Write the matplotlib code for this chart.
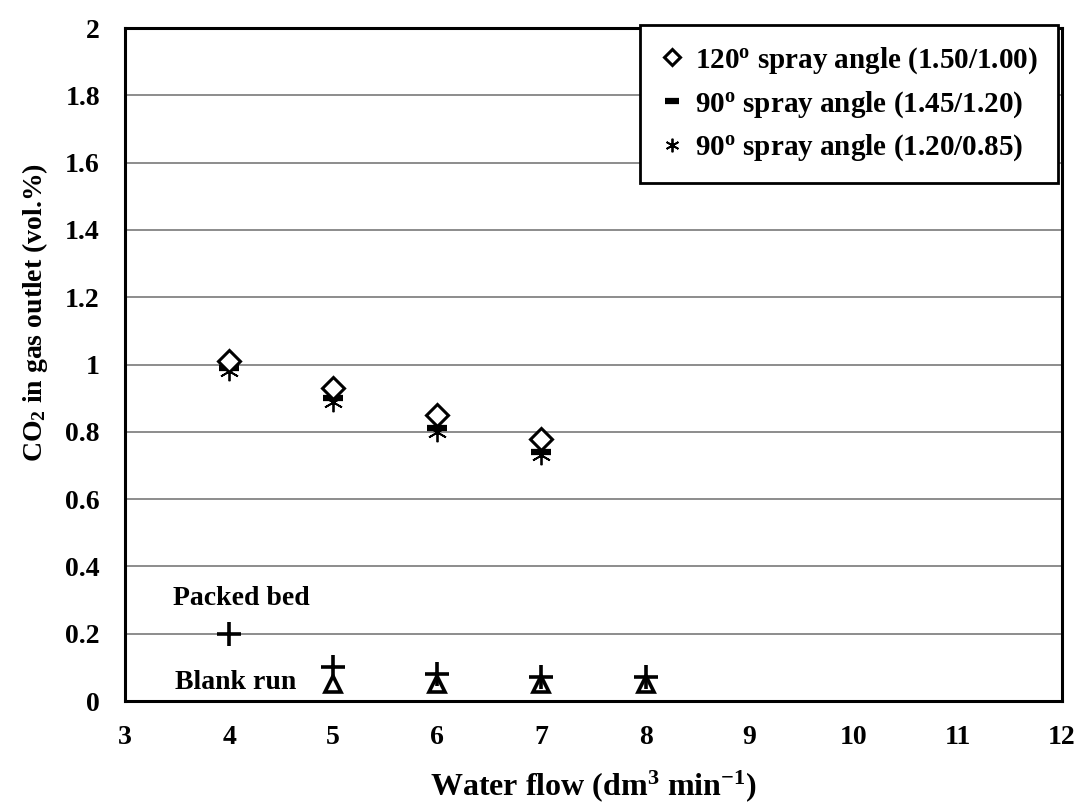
import matplotlib
matplotlib.use("Agg")
import matplotlib.pyplot as plt

plt.rcParams['font.family'] = 'Liberation Serif'
plt.rcParams['font.weight'] = 'bold'
plt.rcParams['mathtext.fontset'] = 'custom'
plt.rcParams['mathtext.rm'] = 'Liberation Serif:bold'
plt.rcParams['mathtext.it'] = 'Liberation Serif:bold'
plt.rcParams['mathtext.bf'] = 'Liberation Serif:bold'

flow = [4, 5, 6, 7]
angle120 = [1.01, 0.93, 0.85, 0.78]
angle90_a = [0.99, 0.90, 0.81, 0.74]
angle90_b = [0.98, 0.89, 0.80, 0.73]

packed_x = [4]
packed_y = [0.20]

blank_x = [5, 6, 7, 8]
blank_plus = [0.10, 0.08, 0.07, 0.07]
blank_tri = [0.05, 0.05, 0.05, 0.05]

labels = ['120$^{\\mathrm{o}}$ spray angle (1.50/1.00)',
          '90$^{\\mathrm{o}}$ spray angle (1.45/1.20)',
          '90$^{\\mathrm{o}}$ spray angle (1.20/0.85)']

fig = plt.figure(figsize=(10.83, 8.08), dpi=100)
ax = fig.add_axes([0.1154, 0.1324, 0.8652, 0.8329])

ax.plot(flow, angle120, 'D', ms=11, mfc='white', mec='black', mew=2.2, ls='none', label=labels[0], zorder=4)
ax.plot(flow, angle90_a, '_', ms=14, mec='black', mew=4.5, ls='none', label=labels[1], zorder=3)
ax.plot(flow, angle90_b, marker=(6, 2, 0), ms=14, mec='black', mew=1.3, ls='none', label=labels[2], zorder=3)

ax.plot(packed_x, packed_y, '+', ms=17, mec='black', mew=2.6, ls='none')
ax.plot(blank_x, blank_plus, '+', ms=17, mec='black', mew=2.6, ls='none')
ax.plot(blank_x, blank_tri, '^', ms=12, mfc='none', mec='black', mew=2.6, ls='none')

ax.text(3.46, 0.305, 'Packed bed', fontsize=20, fontweight='bold', va='center', ha='left')
ax.text(3.48, 0.055, 'Blank run', fontsize=20, fontweight='bold', va='center', ha='left')

ax.set_xlim(3, 12)
ax.set_ylim(0, 2)
ax.set_xticks(range(3, 13))
ax.set_yticks([0, 0.2, 0.4, 0.6, 0.8, 1, 1.2, 1.4, 1.6, 1.8, 2])
ax.set_yticklabels(['0', '0.2', '0.4', '0.6', '0.8', '1', '1.2', '1.4', '1.6', '1.8', '2'])
ax.tick_params(axis='x', length=0, labelsize=20, pad=17)
ax.tick_params(axis='y', length=0, labelsize=20, pad=18)
for lab in ax.get_xticklabels() + ax.get_yticklabels():
    lab.set_fontweight('bold')
ax.yaxis.grid(True, color='#8c8c8c', lw=1.4)
ax.set_axisbelow(True)
for s in ax.spines.values():
    s.set_linewidth(2.2)

ax.set_xlabel('Water flow (dm$^{3}$ min$^{-1}$)', fontsize=23, fontweight='bold')
ax.set_ylabel('CO$_{2}$ in gas outlet (vol.%)', fontsize=20, fontweight='bold')
ax.xaxis.set_label_coords(0.5, -0.10)
ax.yaxis.set_label_coords(-0.080, 0.577)

leg = ax.legend(loc='upper right', bbox_to_anchor=(0.9957, 1.004), fontsize=21, frameon=True,
                fancybox=False, edgecolor='black', borderpad=0.68, labelspacing=0.45,
                handletextpad=0.4, borderaxespad=0, handlelength=0.8, markerscale=0.7)
leg.get_frame().set_linewidth(2)
leg.get_frame().set_alpha(1)

fig.savefig('out.png', dpi=100)
